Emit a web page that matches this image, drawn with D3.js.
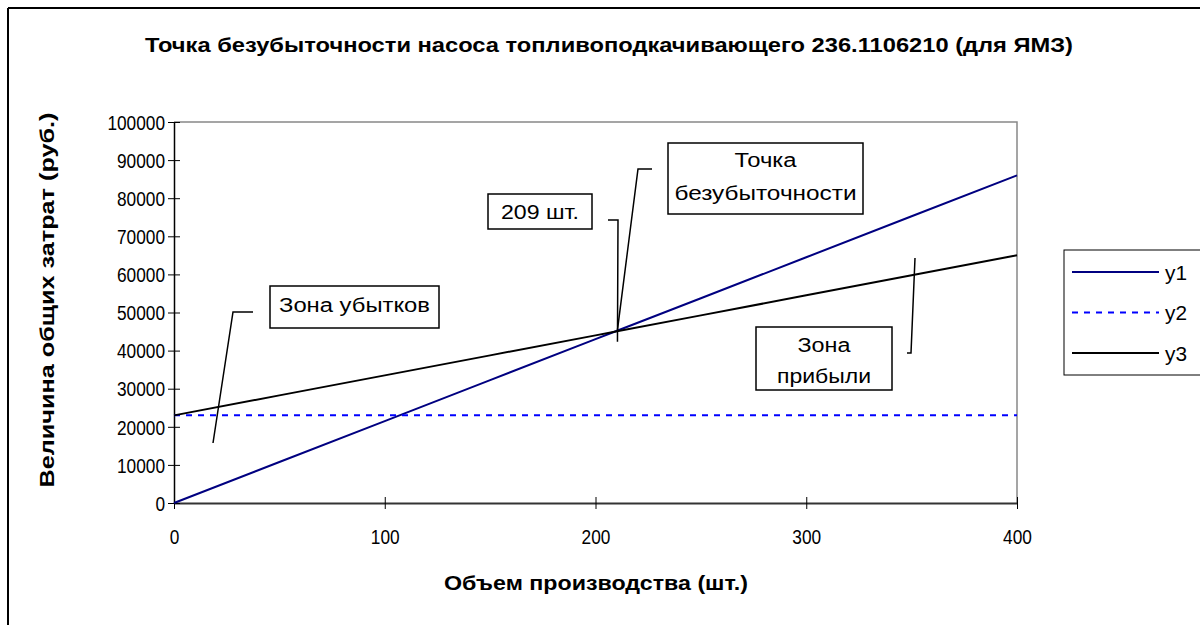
<!DOCTYPE html>
<html>
<head>
<meta charset="utf-8">
<script src="https://cdn.jsdelivr.net/npm/d3@7"></script>
<style>
  html, body { margin: 0; padding: 0; background: #fff; }
  svg { display: block; font-family: "Liberation Sans", Arial, sans-serif; }
</style>
</head>
<body>
<svg id="chart" width="1200" height="625"></svg>
<script>
// Break-even analysis data: output volume (pcs) and cost / revenue values (rub.)
const volume = [0, 50, 100, 150, 200, 209, 250, 300, 350, 400];
const y1 = [0, 10750, 21500, 32250, 43000, 44935, 53750, 64500, 75250, 86000];   // revenue
const y2 = [23000, 23000, 23000, 23000, 23000, 23000, 23000, 23000, 23000, 23000]; // fixed costs
const y3 = [23000, 28250, 33500, 38750, 44000, 44945, 49250, 54500, 59750, 65000]; // total costs
const xTicks = [0, 100, 200, 300, 400];
const yTicks = [0, 10000, 20000, 30000, 40000, 50000, 60000, 70000, 80000, 90000, 100000];
const seriesNames = ["y1", "y2", "y3"];
const breakEven = 209;

const svg = d3.select("#chart");

// narrow, tall lettering: fixed width per glyph
const DIGIT_W = 9.6;

// chart frame (left and top edges visible)
svg.append("line").attr("x1", 8).attr("x2", 8).attr("y1", 8).attr("y2", 625)
  .attr("stroke", "#000").attr("stroke-width", 2);
svg.append("line").attr("x1", 8).attr("x2", 1200).attr("y1", 8).attr("y2", 8)
  .attr("stroke", "#000").attr("stroke-width", 2);

const x = d3.scaleLinear().domain([0, 400]).range([174, 1017]);
const y = d3.scaleLinear().domain([0, 100000]).range([503, 122]);

// plot area border (top and right)
svg.append("path")
  .attr("d", `M${x(0)},${y(100000)}H${x(400)}V${y(0)}`)
  .attr("fill", "none").attr("stroke", "#888").attr("stroke-width", 1.5);

// title
svg.append("text")
  .attr("x", 609).attr("y", 52)
  .attr("text-anchor", "middle")
  .attr("font-weight", "bold").attr("font-size", 21)
  .attr("textLength", 928).attr("lengthAdjust", "spacingAndGlyphs")
  .text("Точка безубыточности насоса топливоподкачивающего 236.1106210 (для ЯМЗ)");

// axes
const xAxis = d3.axisBottom(x).tickValues(xTicks).tickSize(0).tickPadding(0).tickFormat(d3.format("d"));
const gx = svg.append("g").attr("transform", `translate(0,${y(0)})`).call(xAxis);
gx.select(".domain").attr("stroke", "#333").attr("stroke-width", 2);
gx.selectAll(".tick line").remove();
gx.selectAll(".tick").append("line").attr("y1", -6).attr("y2", 6).attr("stroke", "#000");
gx.selectAll(".tick text").attr("y", 41).attr("dy", 0).attr("font-size", 20)
  .attr("font-family", "Liberation Sans, Arial, sans-serif").attr("fill", "#000")
  .attr("textLength", function () { return this.textContent.length * DIGIT_W; })
  .attr("lengthAdjust", "spacingAndGlyphs");

const yAxis = d3.axisLeft(y).tickValues(yTicks).tickSize(0).tickPadding(0).tickFormat(d3.format("d"));
const gy = svg.append("g").attr("transform", `translate(${x(0)},0)`).call(yAxis);
gy.select(".domain").attr("stroke", "#000").attr("stroke-width", 1.5);
gy.selectAll(".tick line").remove();
gy.selectAll(".tick").append("line").attr("x1", -6).attr("x2", 6).attr("stroke", "#000");
gy.selectAll(".tick text").attr("x", -9).attr("dy", "0.36em").attr("font-size", 20)
  .attr("font-family", "Liberation Sans, Arial, sans-serif").attr("fill", "#000")
  .attr("textLength", function () { return this.textContent.length * DIGIT_W; })
  .attr("lengthAdjust", "spacingAndGlyphs");

// axis titles
svg.append("text")
  .attr("x", 596).attr("y", 590).attr("text-anchor", "middle")
  .attr("font-weight", "bold").attr("font-size", 20)
  .attr("textLength", 304).attr("lengthAdjust", "spacingAndGlyphs")
  .text("Объем производства (шт.)");
svg.append("text")
  .attr("transform", "translate(54,300) rotate(-90)")
  .attr("text-anchor", "middle")
  .attr("font-weight", "bold").attr("font-size", 20)
  .attr("textLength", 375).attr("lengthAdjust", "spacingAndGlyphs")
  .text("Величина общих затрат (руб.)");

// series
const styles = {
  y1: { stroke: "#000080", width: 2, dash: null },
  y2: { stroke: "#0000ff", width: 2, dash: "6,6" },
  y3: { stroke: "#000", width: 2, dash: null }
};
const seriesData = { y1, y2, y3 };
const line = d3.line().x((d, i) => x(volume[i])).y(d => y(d));
seriesNames.forEach(name => {
  const s = styles[name];
  svg.append("path")
    .datum(seriesData[name])
    .attr("d", line)
    .attr("fill", "none")
    .attr("stroke", s.stroke)
    .attr("stroke-width", s.width)
    .attr("stroke-dasharray", s.dash);
});

// callouts: box with text lines (text, baseline, width) and a leader line
function callout(box, lines, leader) {
  svg.append("polyline")
    .attr("points", leader.map(p => p.join(",")).join(" "))
    .attr("fill", "none").attr("stroke", "#000").attr("stroke-width", 1.5);
  svg.append("rect")
    .attr("x", box[0]).attr("y", box[1]).attr("width", box[2]).attr("height", box[3])
    .attr("fill", "#fff").attr("stroke", "#000").attr("stroke-width", 1.5);
  lines.forEach(([txt, base, w]) => {
    svg.append("text")
      .attr("x", box[0] + box[2] / 2).attr("y", base)
      .attr("font-size", 20).attr("text-anchor", "middle")
      .attr("textLength", w).attr("lengthAdjust", "spacingAndGlyphs")
      .text(txt);
  });
}

const bx = x(breakEven), byv = y(y1[5]);
callout([270, 286, 169, 42], [["Зона убытков", 312, 151]], [[253, 312], [233, 312], [213, 443]]);
callout([488, 194, 104, 35], [[breakEven + " шт.", 219, 78]], [[608, 220], [618, 220], [bx + 3, byv + 10]]);
callout([668, 143, 195, 71], [["Точка", 167, 62], ["безубыточности", 200, 182]], [[652, 169], [638, 169], [bx + 3, byv - 2]]);
callout([756, 327, 136, 63], [["Зона", 352, 53], ["прибыли", 383, 94]], [[915, 258], [911, 353], [907, 353]]);

// legend
const lg = svg.append("g");
lg.append("rect").attr("x", 1064).attr("y", 250).attr("width", 150).attr("height", 125)
  .attr("fill", "#fff").attr("stroke", "#000").attr("stroke-width", 1);
seriesNames.forEach((name, i) => {
  const s = styles[name];
  const ly = 272 + i * 40.5;
  lg.append("line").attr("x1", 1072).attr("x2", 1159).attr("y1", ly).attr("y2", ly)
    .attr("stroke", s.stroke).attr("stroke-width", s.width).attr("stroke-dasharray", s.dash);
  lg.append("text").attr("x", 1165).attr("y", ly).attr("dy", "0.36em")
    .attr("font-size", 21).attr("textLength", 22).attr("lengthAdjust", "spacingAndGlyphs")
    .text(name);
});
</script>
</body>
</html>
